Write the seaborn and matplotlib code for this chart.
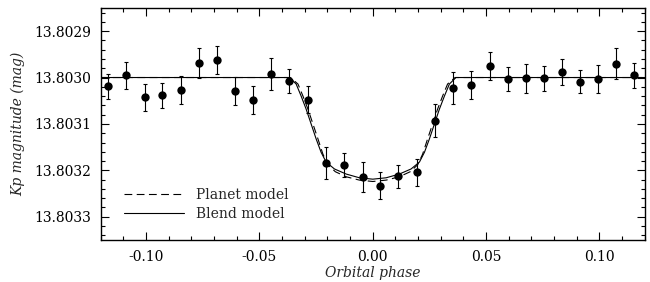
import numpy as np
import matplotlib
matplotlib.use("Agg")
import matplotlib.pyplot as plt
import seaborn as sns
from matplotlib.ticker import MultipleLocator, FormatStrFormatter

# === Data ===
phase = [-0.1166, -0.1087, -0.1007, -0.0928, -0.0848, -0.0768, -0.0688, -0.0609,
         -0.0528, -0.0447, -0.0368, -0.0287, -0.0206, -0.0125, -0.0044, 0.0034,
         0.0113, 0.0194, 0.0274, 0.0353, 0.0434, 0.0515, 0.0596, 0.0675,
         0.0756, 0.0836, 0.0916, 0.0994, 0.1074, 0.1154]
mag = [13.803019, 13.802995, 13.803043, 13.803038, 13.803027, 13.802969, 13.802963, 13.803029,
       13.803049, 13.802992, 13.803007, 13.803048, 13.803184, 13.803188, 13.803215, 13.803233,
       13.803213, 13.803204, 13.803093, 13.803023, 13.803017, 13.802975, 13.803004, 13.803002,
       13.803002, 13.802989, 13.803009, 13.803004, 13.802970, 13.802995]
mag_err = [2.7e-5, 2.9e-5, 2.9e-5, 2.7e-5, 3.1e-5, 3.2e-5, 3.0e-5, 3.1e-5,
           3.0e-5, 3.4e-5, 2.6e-5, 2.9e-5, 3.5e-5, 2.6e-5, 3.2e-5, 2.9e-5,
           2.5e-5, 2.9e-5, 3.5e-5, 3.5e-5, 3.0e-5, 3.1e-5, 2.6e-5, 3.1e-5,
           2.7e-5, 2.8e-5, 2.5e-5, 3.0e-5, 3.4e-5, 2.7e-5]

# model curves
blend_phase = [-0.12, -0.0367, -0.0338, -0.0316, -0.0294, -0.0272, -0.0250, -0.0228,
               -0.0206, -0.0169, -0.0117, -0.0059, 0.0, 0.0059, 0.0117, 0.0169,
               0.0206, 0.0228, 0.0250, 0.0272, 0.0294, 0.0316, 0.0338, 0.0367, 0.12]
blend_mag = [13.803000, 13.803000, 13.803014, 13.803040, 13.803068, 13.803100, 13.803132, 13.803161,
             13.803182, 13.803197, 13.803208, 13.803216, 13.803219, 13.803216, 13.803208, 13.803197,
             13.803182, 13.803161, 13.803132, 13.803100, 13.803068, 13.803040, 13.803014, 13.803000, 13.803000]

planet_phase = [-0.12, -0.0363, -0.0330, -0.0308, -0.0286, -0.0264, -0.0242, -0.0220,
                -0.0198, -0.0165, -0.0116, -0.0059, 0.0, 0.0059, 0.0116, 0.0165,
                0.0198, 0.0220, 0.0242, 0.0264, 0.0286, 0.0308, 0.0330, 0.0363, 0.12]
planet_mag = [13.803000, 13.803000, 13.803014, 13.803040, 13.803068, 13.803100, 13.803132, 13.803165,
              13.803188, 13.803203, 13.803214, 13.803221, 13.803224, 13.803221, 13.803214, 13.803203,
              13.803188, 13.803165, 13.803132, 13.803100, 13.803068, 13.803040, 13.803014, 13.803000, 13.803000]

# === Style ===
sns.set_style("ticks")
plt.rcParams["font.family"] = ["DejaVu Serif"]
plt.rcParams["mathtext.fontset"] = "dejavuserif"

fig = plt.figure(figsize=(6.5, 2.82), dpi=100)
ax = fig.add_axes([0.155, 0.149, 0.837, 0.823])

# === Models ===
sns.lineplot(x=planet_phase, y=planet_mag, ax=ax, color="black", lw=0.8,
             dashes=False, label="Planet model", linestyle=(0, (7, 4)))
sns.lineplot(x=blend_phase, y=blend_mag, ax=ax, color="black", lw=0.8,
             label="Blend model")

# === Data points ===
ax.errorbar(phase, mag, yerr=mag_err, fmt="none", ecolor="black", elinewidth=0.8,
            capsize=1.5, capthick=0.8, zorder=3)
sns.scatterplot(x=phase, y=mag, ax=ax, color="black", s=36, edgecolor="black",
                linewidth=0, zorder=4)

# === Axes ===
ax.set_xlim(-0.12, 0.12)
ax.set_ylim(13.80335, 13.80285)
ax.xaxis.set_major_locator(MultipleLocator(0.05))
ax.xaxis.set_minor_locator(MultipleLocator(0.01))
ax.yaxis.set_major_locator(MultipleLocator(0.0001))
ax.yaxis.set_minor_locator(MultipleLocator(0.00002))
ax.xaxis.set_major_formatter(FormatStrFormatter("%.2f"))
ax.yaxis.set_major_formatter(FormatStrFormatter("%.4f"))
ax.tick_params(which="both", direction="in", top=True, right=True, width=0.8,
               labelsize=10, colors="black")
ax.tick_params(which="major", length=6, pad=7)
ax.tick_params(which="minor", length=3)
for sp in ax.spines.values():
    sp.set_linewidth(1.0)
    sp.set_color("black")

ax.set_xlabel("Orbital phase", fontstyle="italic", fontsize=10, labelpad=2)
ax.set_ylabel("Kp magnitude (mag)", fontstyle="italic", fontsize=10, labelpad=6)

ax.legend(loc="lower left", bbox_to_anchor=(0.02, 0.03), frameon=False,
          fontsize=10, handlelength=4.3, labelspacing=0.3, handletextpad=0.9)

fig.savefig("out.png", dpi=100)
